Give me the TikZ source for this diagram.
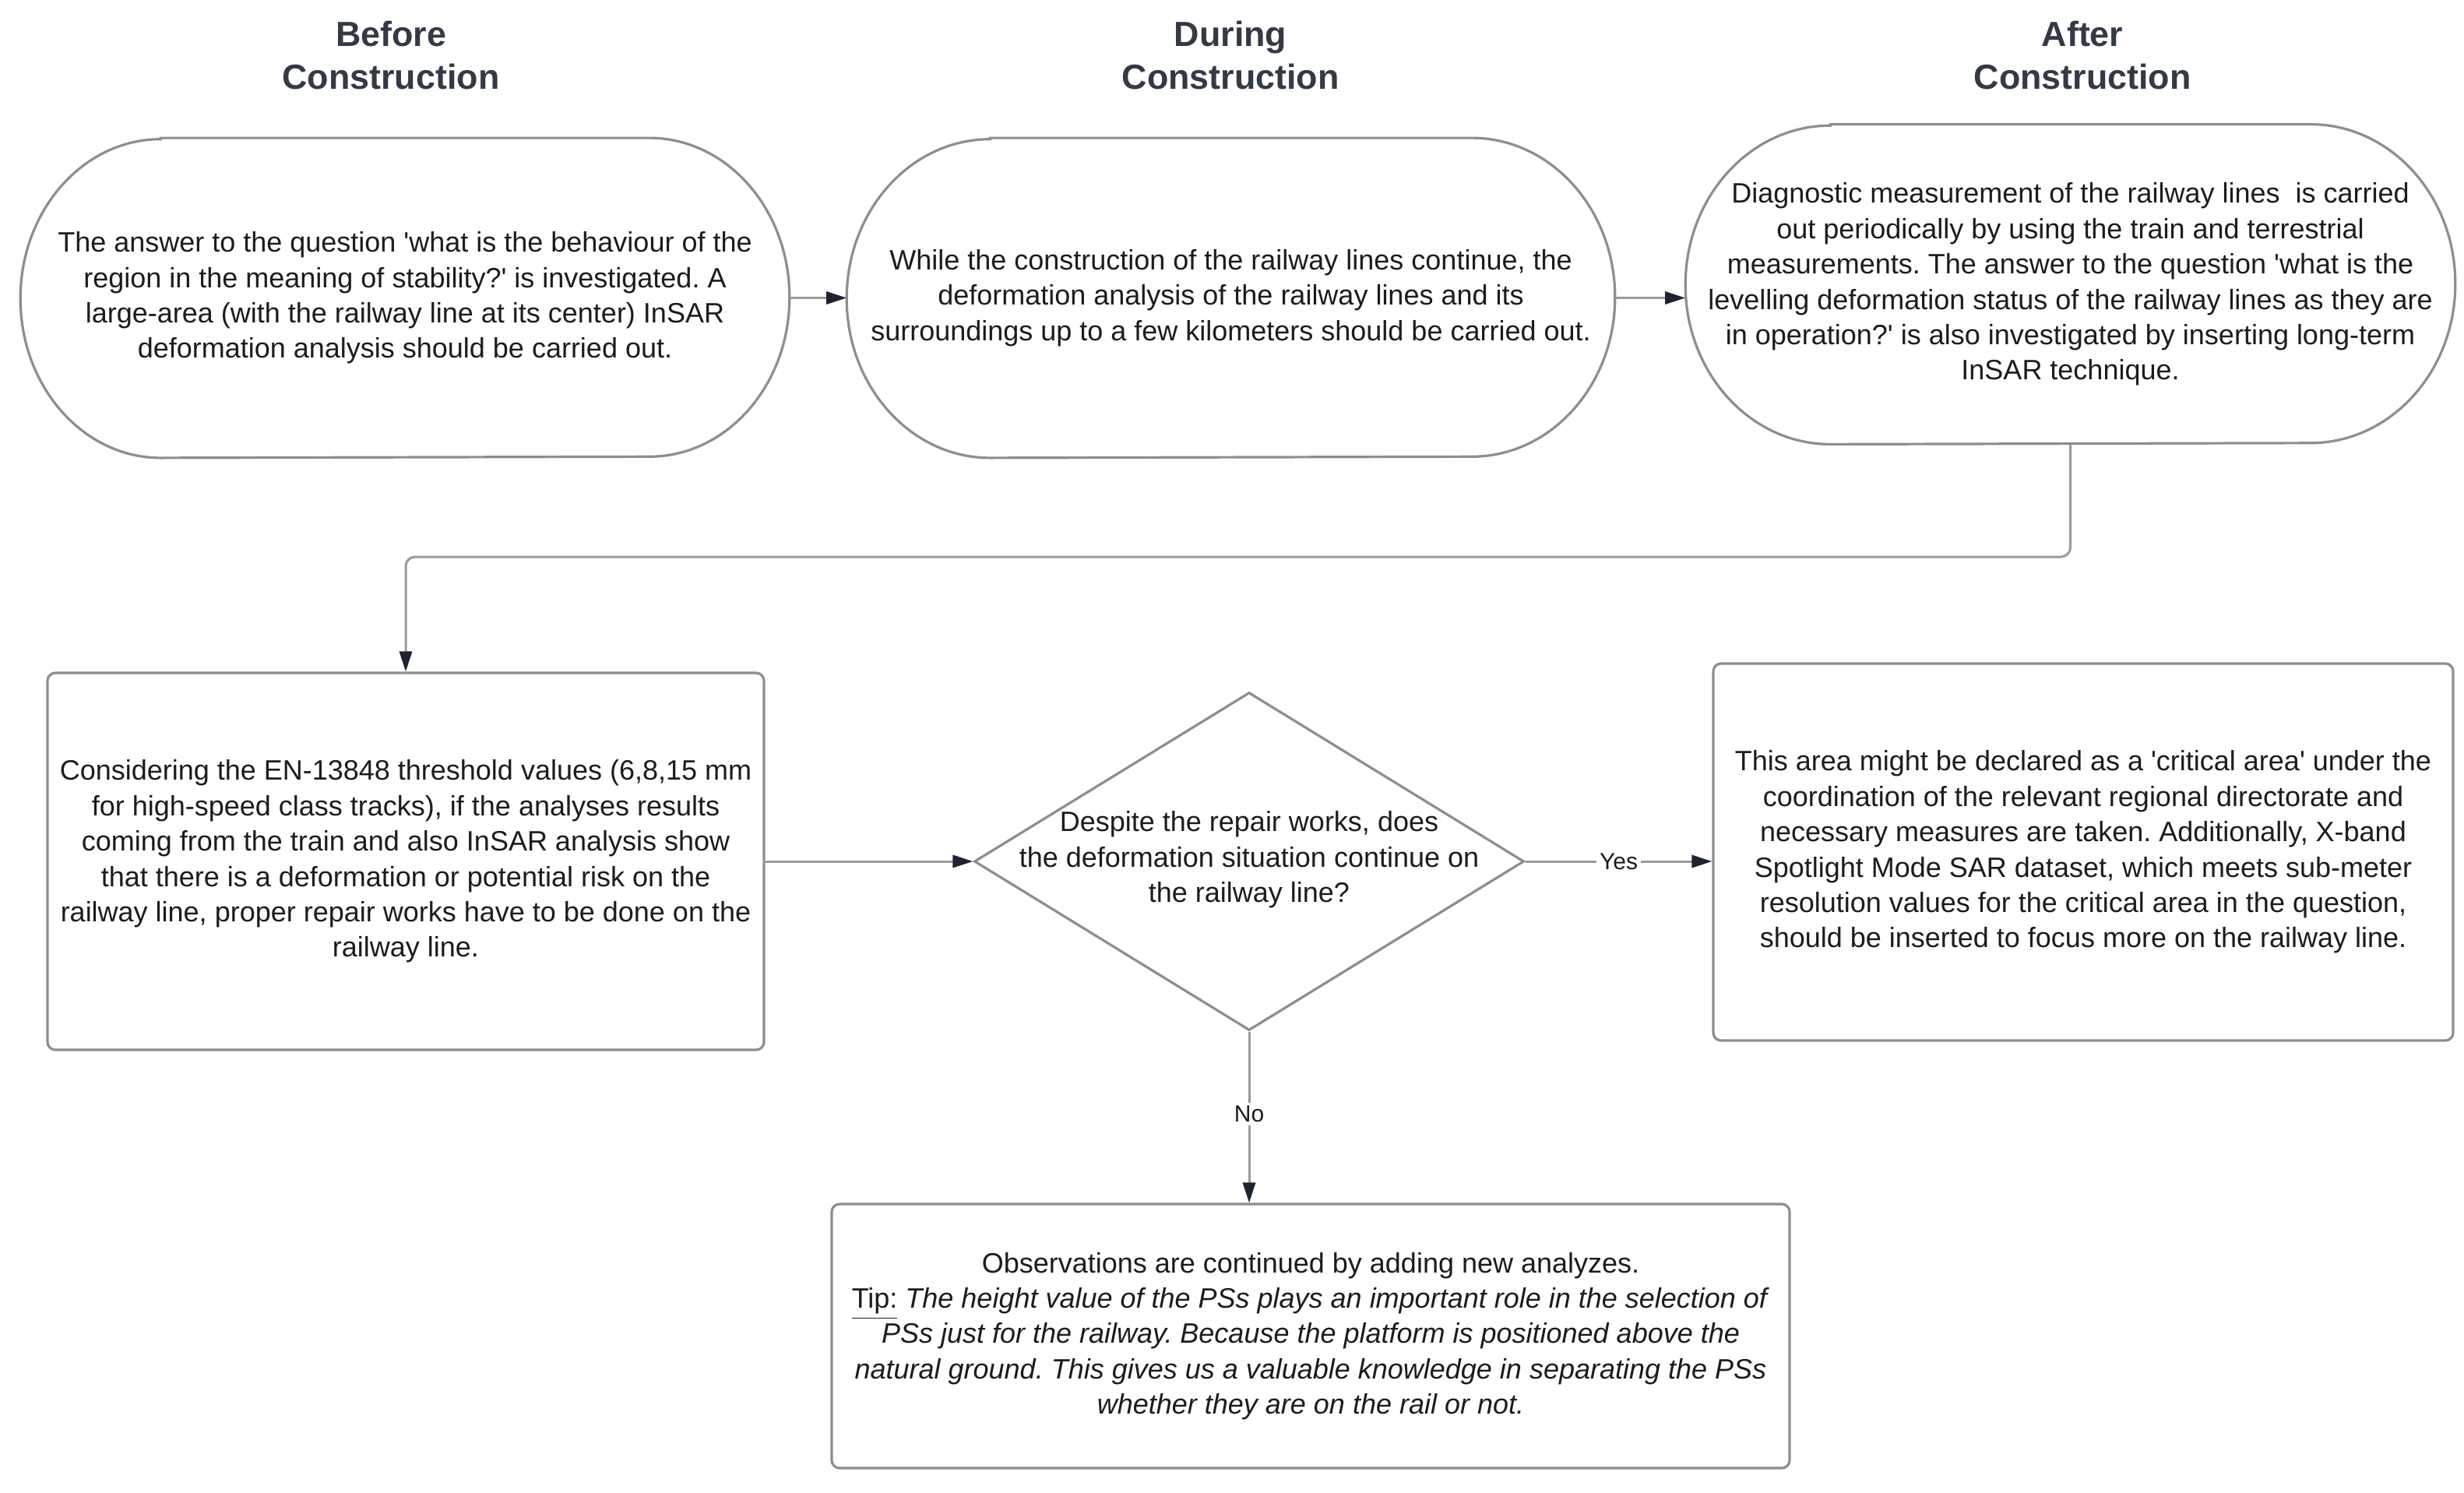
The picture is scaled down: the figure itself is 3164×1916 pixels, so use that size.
\documentclass[tikz,border=0pt]{standalone}
\usepackage{fontspec}
\setmainfont{Liberation Sans}
\usetikzlibrary{arrows.meta,shapes.geometric,calc}
\definecolor{bordc}{HTML}{8E8E8E}
\definecolor{linec}{HTML}{9A9A9A}
\definecolor{tipc}{HTML}{1E2331}
\definecolor{txtc}{HTML}{1C1C1C}
\definecolor{headc}{HTML}{333A45}
\frenchspacing
\newcommand{\stadiumoutline}[2]{%
  \draw[outline] ([xshift=#2]#1.north west) -- ([xshift=-#2]#1.north east)
    arc[start angle=90,end angle=-90,x radius=#2,y radius=51.15pt]
    -- ([xshift=#2]#1.south west)
    arc[start angle=270,end angle=90,x radius=#2,y radius=51.15pt] -- cycle;}
\begin{document}
\begin{tikzpicture}[x=0.25pt,y=-0.25pt,
  body/.style={font=\fontsize{9}{11.35}\selectfont, text=txtc, align=center},
  termbox/.style={body, draw=none, inner sep=0pt, minimum height=102.3pt},
  procbox/.style={body, draw=bordc, line width=0.8pt, rounded corners=2.5pt, inner sep=0pt},
  decision/.style={diamond, draw=bordc, line width=0.8pt, inner sep=0pt, minimum width=176.5pt, minimum height=108.5pt},
  heading/.style={font=\fontsize{11.2}{13.75}\selectfont\bfseries, text=headc, align=center},
  conn/.style={draw=linec, line width=0.75pt, -{Triangle[length=6.5pt,width=4pt,color=tipc]}},
  lbl/.style={font=\fontsize{7.5}{9}\selectfont, text=txtc, fill=white, inner sep=1pt},
  outline/.style={draw=bordc, line width=0.8pt}
]
\fill[white] (0,0) rectangle (3164,1916);
\useasboundingbox (0,0) rectangle (3164,1916);

% headings
\node[heading] (h1) at (502,71) {Before\\Construction};
\node[heading] (h2) at (1580,71) {During\\Construction};
\node[heading] (h3) at (2674,71) {After\\Construction};

% terminals
\node[termbox, minimum width=246.5pt] (t1) at (520,382.5)
  {The answer to the question \textquotesingle what is the behaviour of the\\
   region in the meaning of stability?\textquotesingle\ is investigated. A\\
   large-area (with the railway line at its center) InSAR\\
   deformation analysis should be carried out.};
\stadiumoutline{t1}{45pt}

\node[termbox, minimum width=246.25pt] (t2) at (1580.5,382.5)
  {While the construction of the railway lines continue, the\\
   deformation analysis of the railway lines and its\\
   surroundings up to a few kilometers should be carried out.};
\stadiumoutline{t2}{46pt}

\node[termbox, minimum width=246.75pt] (t3) at (2658.5,365)
  {Diagnostic measurement of the railway lines\ \ is carried\\
   out periodically by using the train and terrestrial\\
   measurements. The answer to the question \textquotesingle what is the\\
   levelling deformation status of the railway lines as they are\\
   in operation?\textquotesingle\ is also investigated by inserting long-term\\
   InSAR technique.};
\stadiumoutline{t3}{46.5pt}

% second row
\node[procbox, minimum width=230pt, minimum height=121pt] (box1) at (521,1106)
  {Considering the EN-13848 threshold values (6,8,15 mm\\
   for high-speed class tracks), if the analyses results\\
   coming from the train and also InSAR analysis show\\
   that there is a deformation or potential risk on the\\
   railway line, proper repair works have to be done on the\\
   railway line.};

\node[decision] (dia) at (1604,1106) {};
\node[body] (diatext) at (1604,1104)
  {Despite the repair works, does\\
   the deformation situation continue on\\
   the railway line?};

\node[procbox, minimum width=237.5pt, minimum height=121pt] (box3) at (2675,1094)
  {This area might be declared as a \textquotesingle critical area\textquotesingle\ under the\\
   coordination of the relevant regional directorate and\\
   necessary measures are taken. Additionally, X-band\\
   Spotlight Mode SAR dataset, which meets sub-meter\\
   resolution values for the critical area in the question,\\
   should be inserted to focus more on the railway line.};

\node[procbox, minimum width=307.5pt, minimum height=84.75pt] (box4) at (1683,1715.5)
  {Observations are continued by adding new analyzes.\\
   \underline{Tip:} \textit{The height value of the PSs plays an important role in the selection of}\\
   \textit{PSs just for the railway. Because the platform is positioned above the}\\
   \textit{natural ground. This gives us a valuable knowledge in separating the PSs}\\
   \textit{whether they are on the rail or not.}};

% connectors
\draw[conn] (t1.east) -- (t2.west);
\draw[conn] (t2.east) -- (t2.east -| t3.west);
\coordinate (bend) at (2658.5,715);
\draw[conn, rounded corners=3pt] (t3.south) -- (bend) -| (box1.north);
\draw[conn] (box1.east) -- (dia.west);
\draw[conn] (dia.east) -- node[lbl] (yes) {Yes} (dia.east -| box3.west);
\draw[conn] (dia.south) -- node[lbl, pos=0.48] (no) {No} (dia.south |- box4.north);
\end{tikzpicture}
\end{document}
